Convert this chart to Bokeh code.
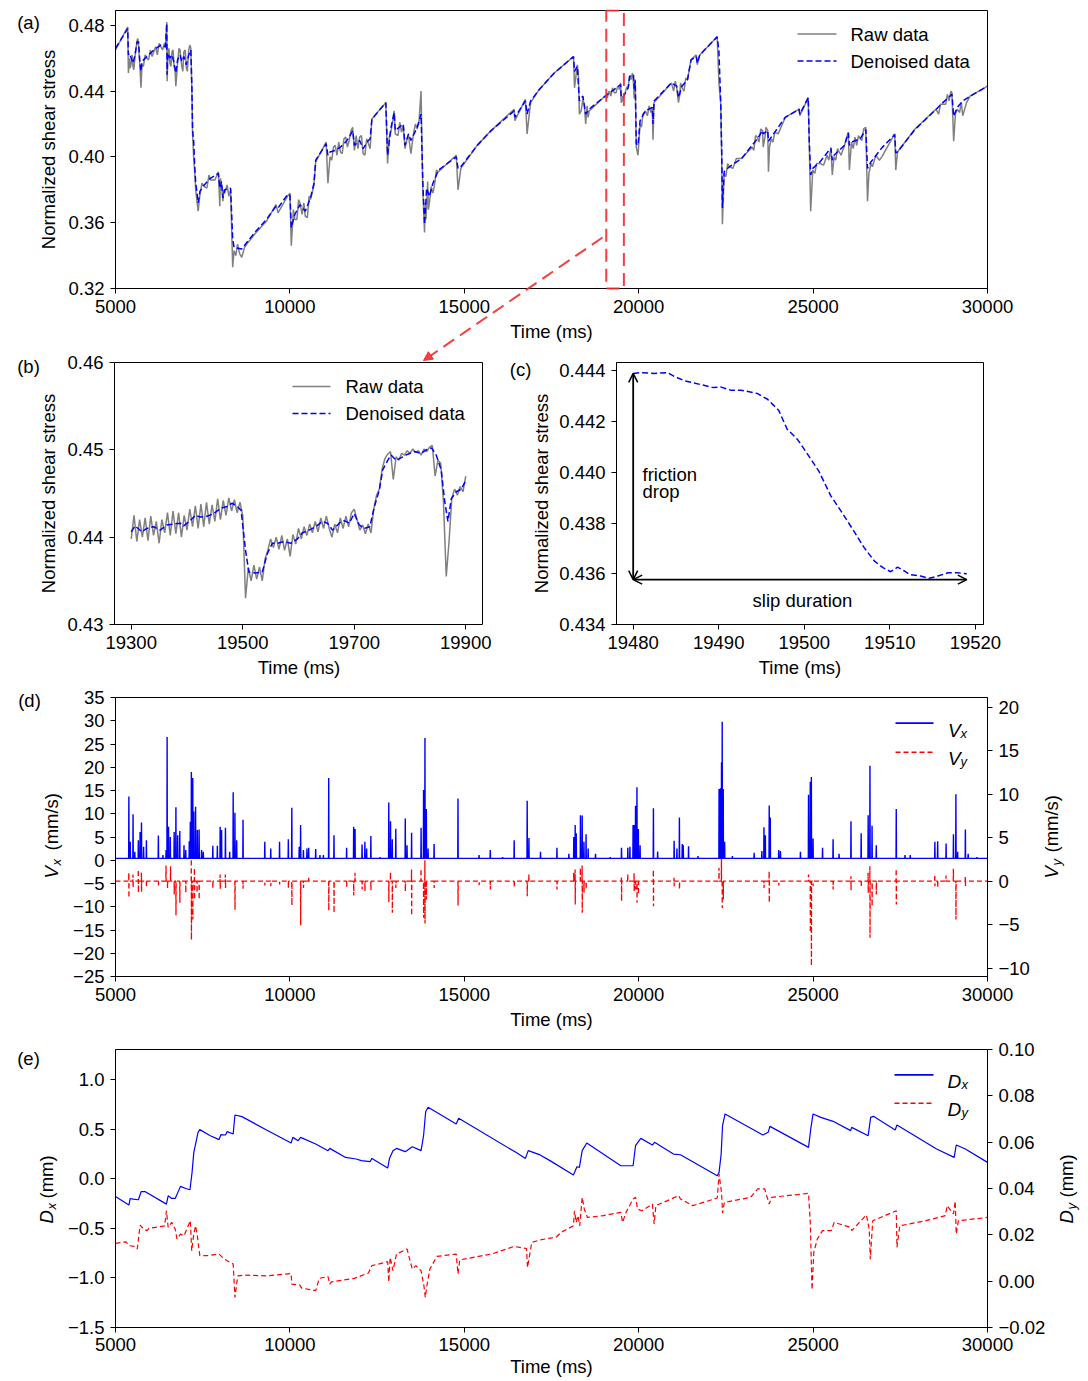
import math
from bokeh.plotting import figure
from bokeh.layouts import column, row
from bokeh.models import (Range1d, LinearAxis, FixedTicker, CustomJSTickFormatter,
                          Label, Arrow, NormalHead, OpenHead, BoxAnnotation)
from bokeh.embed import file_html
from bokeh.resources import INLINE

FONT = "Liberation Sans"
FS = "18.5px"
BLUE = "#0000ff"
RED = "#ff0000"
LINK_RED = "#f52a2a"
GRAY = "#808080"

# ---------------------------------------------------------------- data (a)
a_time = [5000, 5350, 5370, 5400, 5450, 5500, 5550, 5620, 5660, 5700,
          5730, 5760, 5900, 6100, 6300, 6430, 6470, 6480, 6500, 6560,
          6620, 6680, 6730, 6780, 6850, 6900, 6960, 7030, 7100, 7160,
          7190, 7210, 7240, 7270, 7300, 7340, 7370, 7420, 7550, 7720,
          7950, 7990, 8040, 8080, 8130, 8300, 8360, 8400, 8620, 8800,
          9030, 9330, 9600, 9660, 9930, 10000, 10040, 10140, 10290, 10440,
          10590, 10690, 10740, 11040, 11090, 11150, 11300, 11450, 11600, 11700,
          11800, 11850, 12000, 12100, 12250, 12300, 12350, 12750, 12800, 12900,
          12990, 13020, 13250, 13300, 13400, 13470, 13650, 13760, 13810, 13860,
          13920, 14000, 14100, 14160, 14260, 14770, 14820, 14900, 15370, 15770,
          16430, 16450, 16750, 16800, 16900, 17150, 17580, 18130, 18160, 18240,
          18300, 18400, 18480, 18580, 19040, 19300, 19480, 19500, 19540, 19700,
          19740, 19850, 19870, 19900, 19930, 19980, 20040, 20190, 20390, 20410,
          20440, 20940, 21090, 21140, 21240, 21400, 21500, 21650, 21680, 21750,
          22250, 22300, 22350, 22380, 22400, 22450, 22600, 22950, 23250, 23400,
          23550, 23570, 23700, 23720, 23800, 24200, 24600, 24620, 24860, 24890,
          24930, 24990, 25200, 25510, 25550, 25600, 25900, 26010, 26040, 26100,
          26350, 26510, 26560, 26660, 26970, 27340, 27370, 27420, 27920, 28520,
          28720, 28980, 29030, 29130, 29290, 29590, 30000]
a_denoised = [.466, .478, .462, .463, .460, .457, .461, .470, .470, .457,
              .452, .458, .461, .465, .468, .467, .481, .450, .463, .460,
              .462, .457, .451, .459, .462, .458, .461, .456, .462, .465,
              .442, .416, .410, .395, .384, .378, .372, .379, .383, .387,
              .390, .381, .385, .375, .380, .381, .350, .345, .344, .349,
              .355, .362, .370, .369, .377, .377, .357, .365, .371, .367,
              .375, .384, .398, .408, .401, .403, .404, .406, .409, .412,
              .416, .407, .410, .405, .410, .411, .423, .433, .401, .418,
              .427, .416, .420, .407, .414, .410, .418, .426, .385, .359,
              .381, .376, .384, .387, .392, .400, .393, .394, .407, .416,
              .428, .424, .434, .426, .434, .441, .451, .461, .452, .455,
              .434, .437, .426, .429, .437, .441, .444, .436, .436, .442,
              .449, .450, .4415, .4465, .408, .407, .422, .428, .430, .420,
              .434, .445, .443, .436, .443, .447, .459, .461, .457, .462,
              .473, .464, .434, .403, .369, .391, .394, .399, .407, .411,
              .416, .414, .416, .4095, .412, .424, .429, .426, .436, .4095,
              .389, .393, .397, .4055, .398, .401, .407, .4146, .407, .409,
              .411, .4166, .393, .397, .4055, .4136, .4024, .403, .4166, .4288,
              .433, .438, .4247, .430, .434, .438, .443]
a_raw = [.465, .479, .451, .460, .457, .455, .459, .471, .468, .455,
         .442, .456, .460, .464, .467, .466, .482, .446, .461, .457,
         .464, .455, .443, .457, .465, .455, .464, .454, .465, .466,
         .440, .414, .400, .391, .380, .372, .367, .377, .382, .386,
         .391, .370, .383, .373, .378, .380, .333, .343, .339, .348,
         .354, .361, .371, .366, .376, .378, .346, .362, .372, .364,
         .374, .383, .397, .409, .384, .400, .407, .403, .412, .410,
         .418, .404, .412, .402, .408, .405, .423, .433, .396, .416,
         .428, .414, .419, .405, .413, .402, .417, .440, .380, .354,
         .370, .372, .378, .385, .391, .401, .380, .393, .407, .416,
         .429, .422, .435, .414, .433, .441, .451, .461, .442, .456,
         .426, .435, .420, .428, .437, .439, .445, .433, .435, .443,
         .449, .445, .4355, .447, .406, .401, .420, .428, .430, .4105,
         .433, .445, .442, .433, .442, .447, .459, .462, .456, .462,
         .473, .445, .433, .400, .359, .390, .394, .399, .406, .412,
         .416, .406, .416, .391, .411, .424, .429, .425, .436, .408,
         .367, .392, .396, .405, .389, .400, .407, .415, .392, .409,
         .411, .418, .373, .396, .400, .414, .392, .403, .417, .429,
         .432, .439, .4095, .429, .425, .438, .443]
# additional raw samples read in the noisy stretches
a_raw_extra_time = [5420, 5475, 5525, 5590, 5640, 5800, 5850, 5950, 6000, 6050,
                    6150, 6200, 6250, 6350, 6400, 6530, 6590, 6650, 6710, 6820,
                    6930, 7000, 7060, 7130, 7480, 7620, 7680, 7850, 8010, 8100,
                    8200, 8250, 8450, 8500, 8560, 8700, 10100, 10200, 10250, 10350,
                    10400, 10500, 10550, 10650, 11200, 11250, 11350, 11400, 11500, 11550,
                    11650, 11750, 11900, 11950, 12050, 12150, 12200, 12850, 12950, 13100,
                    13150, 13200, 13350, 13550, 13600, 13700, 13880, 13900, 13950, 13970,
                    14050, 14130, 14200, 18200, 18270, 18350, 18440, 18520, 18550, 19100,
                    19150, 19200, 19250, 19350, 19400, 19450, 19600, 19650, 19780, 19820,
                    20080, 20120, 20250, 20300, 20350, 21000, 21050, 21180, 21200, 21300,
                    21350, 22500, 22550, 22700, 22800, 23300, 23350, 23450, 23500, 23620,
                    23650, 23750, 23850, 23900, 24000, 25050, 25100, 25300, 25400, 25450,
                    25650, 25700, 25800, 25950, 26150, 26200, 26250, 26300, 26400, 26450,
                    26600, 26700, 26800, 26900, 28600, 28650, 28800, 28850, 28900, 28950,
                    29080, 29200, 29250, 29400, 29500]
a_raw_extra = [.454, .462, .453, .466, .472, .455, .462, .459, .465, .461,
               .467, .462, .469, .465, .469, .466, .455, .465, .452, .466,
               .452, .465, .452, .468, .384, .381, .389, .386, .387, .380,
               .383, .376, .340, .347, .341, .345, .368, .362, .374, .365,
               .372, .363, .376, .379, .398, .406, .401, .409, .402, .411,
               .406, .416, .413, .405, .413, .401, .411, .412, .422, .413,
               .421, .415, .410, .415, .420, .421, .372, .362, .385, .368,
               .382, .381, .392, .449, .451, .428, .432, .431, .424, .436,
               .440, .437, .442, .439, .443, .441, .438, .442, .447, .451,
               .418, .426, .425, .431, .427, .440, .446, .438, .445, .440,
               .448, .388, .396, .393, .399, .404, .413, .409, .417, .412,
               .418, .406, .409, .415, .414, .390, .396, .395, .401, .398,
               .398, .405, .401, .411, .405, .412, .407, .413, .410, .417,
               .390, .394, .401, .398, .426, .432, .432, .438, .434, .440,
               .426, .427, .433, .433, .437]
zoom_box_time = [19070, 19575]

# ---------------------------------------------------------------- data (b)
b_den_time = [19300, 19307, 19319, 19328, 19340, 19352, 19364, 19376, 19388, 19394,
              19406, 19415, 19424, 19436, 19448, 19460, 19472, 19481, 19490, 19497,
              19505, 19511, 19523, 19535, 19544, 19553, 19562, 19574, 19586, 19598,
              19607, 19619, 19631, 19643, 19652, 19661, 19673, 19682, 19691, 19700,
              19709, 19718, 19728, 19736, 19745, 19751, 19760, 19766, 19775, 19787,
              19796, 19808, 19820, 19829, 19839, 19847, 19856, 19862, 19868, 19874,
              19883, 19892, 19900]
b_denoised = [.4406, .4413, .4406, .4410, .4412, .4408, .4414, .4415, .4416, .4413,
              .4419, .4425, .4423, .4424, .4427, .4433, .4435, .4439, .4435, .4431,
              .4385, .4360, .4359, .4360, .4381, .4393, .4393, .4395, .4393, .4398,
              .4405, .4408, .4412, .4418, .4416, .4408, .4416, .4419, .4416, .4427,
              .4414, .4410, .4412, .4435, .4454, .4477, .4488, .4494, .4488, .4492,
              .4495, .4498, .4496, .4500, .4502, .4494, .4477, .4442, .4418, .4444,
              .4452, .4455, .4465]
b_raw_time = list(range(19300, 19905, 5))
b_raw = [.4398, .4425, .4395, .4420, .4400, .4422, .4396, .4424, .4402, .4418,
         .4393, .4420, .4405, .4428, .4402, .4430, .4404, .4428, .4400, .4425,
         .4408, .4432, .4412, .4436, .4410, .4438, .4412, .4440, .4415, .4437,
         .4418, .4444, .4420, .4442, .4425, .4445, .4430, .4443, .4428, .4440,
         .4425, .4330, .4365, .4350, .4368, .4352, .4366, .4350, .4375, .4385,
         .4398, .4388, .4400, .4386, .4402, .4385, .4398, .4378, .4403, .4392,
         .4410, .4398, .4412, .4402, .4415, .4405, .4418, .4406, .4422, .4410,
         .4424, .4410, .4400, .4415, .4405, .4422, .4410, .4424, .4412, .4428,
         .4432, .4420, .4408, .4414, .4404, .4415, .4405, .4432, .4448, .4455,
         .4478, .4490, .4495, .4498, .4466, .4492, .4488, .4496, .4494, .4499,
         .4496, .4501, .4497, .4499, .4494, .4501, .4498, .4503, .4505, .4470,
         .4488, .4485, .4440, .4355, .4395, .4445, .4455, .4448, .4458, .4452,
         .4470]

# ---------------------------------------------------------------- data (c)
c_time = [19480.0, 19480.8, 19482.4, 19484.0, 19484.7, 19486.0, 19488.0, 19489.4, 19490.2, 19491.4,
          19492.6, 19494.5, 19495.7, 19497.0, 19498.0, 19499.2, 19500.4, 19501.7, 19503.1, 19504.3,
          19505.8, 19507.0, 19508.2, 19509.2, 19510.1, 19510.9, 19511.7, 19512.3, 19513.6, 19514.6,
          19515.6, 19516.8, 19517.9, 19519.0]
c_denoised = [.44390, .44393, .44390, .44393, .44380, .44361, .44345, .44334, .44337, .44324,
              .44324, .44311, .44288, .44245, .44170, .44130, .44071, .44005, .43907, .43847,
              .43768, .43703, .43650, .43624, .43608, .43626, .43611, .43597, .43591, .43582,
              .43591, .43604, .43604, .43600]

# ---------------------------------------------------------------- data (d)
vx_time = [5383, 5423, 5503, 5553, 5655, 5705, 5745, 5806, 5886, 6229,
           6359, 6450, 6480, 6520, 6571, 6682, 6732, 6783, 6843, 6964,
           7014, 7115, 7145, 7175, 7215, 7245, 7296, 7346, 7397, 7467,
           7517, 7790, 7920, 8001, 8041, 8152, 8273, 8374, 8424, 8474,
           8656, 9280, 9451, 9703, 9955, 10055, 10267, 10307, 10388, 10488,
           10538, 10740, 10861, 10961, 11113, 11264, 11626, 11828, 11868, 12069,
           12150, 12200, 12321, 12583, 12835, 12885, 12935, 13036, 13308, 13358,
           13489, 13761, 13832, 13872, 13912, 13962, 14134, 14819, 15423, 15745,
           16098, 16430, 16803, 16853, 17185, 17656, 17998, 18139, 18179, 18209,
           18330, 18380, 18430, 18491, 18551, 18762, 19185, 19507, 19688, 19748,
           19839, 19869, 19909, 19950, 19990, 20040, 20422, 20543, 21016, 21096,
           21167, 21248, 21278, 21429, 21700, 22304, 22344, 22374, 22394, 22424,
           22464, 22686, 23310, 23531, 23591, 23631, 23742, 23772, 24014, 24064,
           24637, 24869, 24919, 24950, 24999, 25271, 25573, 25744, 26086, 26378,
           26579, 26630, 26690, 26811, 27384, 27635, 27786, 28491, 28571, 28813,
           29024, 29094, 29144, 29366, 29446, 29698]
vx_peak = [13.7, 4.0, 9.9, 1.8, 4.3, 6.1, 8.1, 2.9, 4.3, 5.3,
           1.1, 2.2, 26.5, 7.2, 5.0, 6.1, 11.4, 5.4, 6.3, 3.2,
           2.2, 4.1, 8.3, 19.0, 17.7, 10.5, 11.5, 6.5, 6.6, 2.2,
           1.8, 3.1, 3.1, 7.2, 6.5, 7.0, 1.8, 14.6, 10.2, 4.3,
           8.7, 4.0, 2.5, 4.0, 4.5, 11.3, 2.9, 7.6, 2.2, 2.5,
           2.7, 2.4, 1.1, 1.1, 17.7, 5.4, 2.7, 7.2, 6.7, 3.4,
           4.0, 2.5, 5.2, 0.7, 12.4, 8.4, 4.5, 6.8, 9.0, 3.2,
           5.9, 7.0, 15.1, 26.3, 11.0, 2.5, 3.5, 13.3, 1.1, 2.2,
           0.7, 4.3, 12.8, 4.8, 1.8, 2.7, 1.4, 5.0, 7.6, 5.8,
           9.7, 9.6, 4.0, 5.6, 2.5, 1.4, 0.7, 2.7, 2.7, 2.9,
           7.6, 7.6, 11.7, 15.7, 6.7, 3.2, 11.2, 1.9, 4.2, 2.5,
           9.2, 3.5, 3.2, 3.0, 0.9, 15.3, 15.5, 21.1, 29.8, 15.3,
           4.0, 0.9, 1.6, 2.0, 7.1, 5.4, 11.8, 9.2, 2.2, 2.0,
           1.8, 14.1, 16.9, 17.9, 4.7, 2.7, 4.5, 1.4, 8.4, 5.8,
           9.7, 20.3, 7.4, 3.2, 11.0, 1.1, 1.1, 4.0, 4.1, 3.6,
           5.6, 14.2, 1.8, 6.6, 1.4, 0.7]
vx_baseline = 0.4

vy_time = [5383, 5503, 5655, 5745, 5886, 6229, 6450, 6490, 6581, 6682,
           6732, 6843, 7014, 7175, 7215, 7265, 7336, 7397, 7790, 8001,
           8152, 8424, 8656, 9280, 9451, 9703, 9955, 10055, 10307, 10388,
           10538, 11113, 11264, 11626, 11828, 11868, 12069, 12150, 12321, 12835,
           12885, 12935, 13036, 13308, 13489, 13761, 13832, 13872, 13912, 14134,
           14819, 15423, 15745, 16430, 16803, 16853, 17656, 18139, 18179, 18330,
           18380, 18430, 18491, 19507, 19688, 19869, 19909, 19950, 19990, 20422,
           21016, 21167, 22304, 22374, 22394, 22424, 23591, 23742, 24014, 24869,
           24919, 24950, 24999, 25573, 26086, 26378, 26579, 26630, 26690, 26811,
           27384, 28491, 28571, 28813, 29024, 29094, 29366]
vy_up = [0.96, 0.77, 1.34, 1.00, 0, 0, 1.80, 0, 1.72, 0,
         0, 0, 0, 2.57, 0, 1.53, 0, 0, 0, 0.77,
         0.77, 0, 0, 0, 0, 0, 0, 0, 0, 0,
         0.38, 0, 0, 0, 0, 0.96, 0, 0, 0, 0,
         1.03, 0, 0, 0, 1.34, 1.42, 0, 2.41, 0, 0,
         0, 0, 0, 0, 0, 0.77, 0, 0.96, 1.34, 1.53,
         1.80, 0, 0, 0.57, 0.77, 0.96, 0, 0, 0, 1.34,
         0.38, 0, 1.53, 2.57, 0, 0, 0, 1.15, 0, 0.77,
         0, 0, 0, 0, 0.57, 0, 0.96, 1.72, 0, 0,
         1.42, 0.77, 0, 0.65, 1.42, 0, 0.57]
vy_down = [-1.92, -0.77, -1.34, -1.20, -0.57, -0.50, 0, -0.77, 0, -1.53,
           -3.92, -2.49, -1.34, -6.74, -4.41, -2.11, -1.34, -2.11, -0.77, -0.88,
           -0.77, -3.30, -0.88, -0.50, -0.57, -0.38, -0.77, -2.80, -5.06, -0.77,
           0, -3.37, -3.64, -0.65, -1.65, 0, -0.96, -1.15, -1.03, -2.41,
           0, -3.64, -0.77, -1.15, -3.94, 0, -4.21, -4.87, -2.11, -0.77,
           -2.80, -0.46, -0.96, -0.69, -1.72, 0, -0.96, 0, -2.68, 0,
           -3.64, -1.34, -0.96, -2.30, 0, -1.15, -0.96, -2.49, -1.53, -2.87,
           -0.57, -0.96, 0, 0, -3.07, -2.11, -0.77, -2.49, -0.50, 0,
           -5.90, -9.73, -0.57, -0.96, -1.03, -0.57, -1.34, -6.51, -2.87, -1.53,
           -2.68, -0.57, -0.69, 0, 0, -4.41, -0.57]

# ---------------------------------------------------------------- data (e)
dx_time = [5000, 5383, 5423, 5503, 5655, 5735, 5856, 6460, 6510, 6611,
           6712, 6863, 7014, 7135, 7195, 7245, 7286, 7366, 7417, 7719,
           7970, 8021, 8152, 8202, 8374, 8424, 8625, 9330, 10035, 10085,
           10236, 10307, 10740, 11093, 11143, 11596, 11898, 12049, 12300, 12351,
           12804, 12855, 12955, 13056, 13308, 13509, 13761, 13832, 13892, 13962,
           14768, 14839, 16430, 16481, 16752, 16833, 17173, 17467, 18129, 18229,
           18300, 18380, 18511, 19487, 19839, 19909, 20060, 20392, 20453, 20996,
           21197, 22253, 22304, 22364, 22404, 22475, 23561, 23712, 23762, 24869,
           24939, 24999, 25221, 25573, 26076, 26106, 26579, 26650, 26730, 27354,
           27404, 28541, 29044, 29104, 29366, 30000]
dx_value = [-0.178, -0.266, -0.199, -0.205, -0.212, -0.131, -0.131, -0.256, -0.172, -0.199,
            -0.199, -0.077, -0.098, -0.111, 0.064, 0.266, 0.333, 0.468, 0.495, 0.434,
            0.394, 0.444, 0.441, 0.475, 0.451, 0.643, 0.626, 0.491, 0.360, 0.417,
            0.384, 0.417, 0.350, 0.283, 0.306, 0.215, 0.199, 0.182, 0.172, 0.205,
            0.108, 0.205, 0.283, 0.306, 0.273, 0.323, 0.283, 0.434, 0.676, 0.720,
            0.552, 0.609, 0.276, 0.266, 0.205, 0.283, 0.240, 0.180, 0.037, 0.121,
            0.114, 0.283, 0.360, 0.131, 0.131, 0.333, 0.407, 0.340, 0.367, 0.249,
            0.242, 0.030, 0.064, 0.249, 0.536, 0.653, 0.441, 0.468, 0.528, 0.316,
            0.518, 0.653, 0.619, 0.579, 0.485, 0.518, 0.434, 0.619, 0.629, 0.491,
            0.542, 0.299, 0.215, 0.340, 0.299, 0.165]
dy_time = [5000, 5302, 5403, 5553, 5624, 5705, 5806, 5906, 5957, 6410,
           6460, 6510, 6611, 6712, 6762, 6863, 6963, 7145, 7185, 7236,
           7296, 7346, 7417, 7618, 7970, 8122, 8374, 8424, 8505, 8726,
           9330, 10035, 10055, 10287, 10337, 10740, 10841, 11093, 11143, 11193,
           11848, 12250, 12351, 12804, 12835, 12875, 12955, 13056, 13358, 13509,
           13610, 13761, 13842, 13882, 13942, 14013, 14214, 14768, 14819, 14869,
           15775, 16430, 16783, 16813, 16934, 17173, 17467, 17626, 17777, 18129,
           18159, 18209, 18259, 18310, 18380, 18440, 18531, 18984, 19487, 19537,
           19638, 19839, 19909, 19970, 20091, 20392, 20443, 20493, 21147, 21197,
           21549, 22253, 22304, 22374, 22404, 22455, 23209, 23410, 23611, 23742,
           23813, 24869, 24919, 24969, 25020, 25120, 25271, 25522, 25603, 26076,
           26106, 26528, 26609, 26640, 26710, 26831, 27384, 27404, 27485, 28239,
           28792, 28843, 29024, 29074, 29104, 29165, 30000]
dy_value = [.0163, .0170, .0153, .0150, .0139, .0242, .0225, .0218, .0228, .0239,
            .0304, .0232, .0254, .0225, .0182, .0203, .0196, .0261, .0131, .0196,
            .0239, .0196, .0110, .0110, .0117, .0095, .0074, -.0070, .0023, .0026,
            .0023, .0033, -.0013, -.0017, -.0030, -.0041, .0012, .0020, -.0013, -.0003,
            .0012, .0035, .0067, .0084, -.0003, .0103, .0045, .0117, .0139, .0052,
            .0067, .0045, -.0020, -.0070, -.0006, .0052, .0107, .0117, .0031, .0092,
            .0117, .0150, .0141, .0059, .0167, .0178, .0186, .0189, .0211, .0239,
            .0304, .0254, .0283, .0239, .0362, .0311, .0275, .0283, .0297, .0254,
            .0297, .0355, .0362, .0311, .0304, .0333, .0247, .0326, .0369, .0355,
            .0326, .0359, .0463, .0383, .0294, .0340, .0362, .0398, .0398, .0333,
            .0362, .0379, .0254, -.0037, .0124, .0182, .0218, .0218, .0254, .0232,
            .0218, .0286, .0225, .0095, .0261, .0268, .0304, .0146, .0239, .0261,
            .0283, .0326, .0290, .0345, .0203, .0261, .0275]

# ticks
long_time_ticks = [5000, 10000, 15000, 20000, 25000, 30000]
a_yticks = [0.32, 0.36, 0.40, 0.44, 0.48]
b_xticks = [19300, 19500, 19700, 19900]
b_yticks = [0.43, 0.44, 0.45, 0.46]
c_xticks = [19480, 19490, 19500, 19510, 19520]
c_yticks = [0.434, 0.436, 0.438, 0.440, 0.442, 0.444]
d_yticks = [-25, -20, -15, -10, -5, 0, 5, 10, 15, 20, 25, 30, 35]
d_y2ticks = [-10, -5, 0, 5, 10, 15, 20]
e_yticks = [-1.5, -1.0, -0.5, 0.0, 0.5, 1.0]
e_y2ticks = [-0.02, 0.0, 0.02, 0.04, 0.06, 0.08, 0.10]

assert len(a_time) == len(a_denoised) == len(a_raw)
assert len(a_raw_extra_time) == len(a_raw_extra)
assert len(b_den_time) == len(b_denoised)
assert len(b_raw_time) == len(b_raw)
assert len(c_time) == len(c_denoised)
assert len(vx_time) == len(vx_peak)
assert len(vy_time) == len(vy_up) == len(vy_down)
assert len(dx_time) == len(dx_value)
assert len(dy_time) == len(dy_value)

# raw series of (a): sampled values merged in time order
_raw_pairs = sorted(zip(a_time + a_raw_extra_time, a_raw + a_raw_extra))
a_raw_all_time = [t for t, v in _raw_pairs]
a_raw_all = [v for t, v in _raw_pairs]


# ---------------------------------------------------------------- helpers
class Geo:
    """maps page pixel positions to data coordinates of a figure"""
    def __init__(self, fl, ft, fw, fh, xr, yr):
        self.fl, self.ft, self.fw, self.fh, self.xr, self.yr = fl, ft, fw, fh, xr, yr

    def x(self, px):
        return self.xr[0] + (px - self.fl) / self.fw * (self.xr[1] - self.xr[0])

    def y(self, py):
        return self.yr[1] - (py - self.ft) / self.fh * (self.yr[1] - self.yr[0])


def no_align(p):
    try:
        p.frame_align = False
    except AttributeError:
        pass


def make_fig(w, h, bl, br, bt, bb, xr, yr):
    p = figure(width=w, height=h, x_range=Range1d(*xr), y_range=Range1d(*yr),
               output_backend="svg", toolbar_location=None, title=None,
               min_border_left=bl, min_border_right=br, min_border_top=bt, min_border_bottom=bb,
               background_fill_color="white", border_fill_color="white")
    no_align(p)
    p.xgrid.visible = False
    p.ygrid.visible = False
    p.outline_line_color = "black"
    p.outline_line_width = 1
    p.outline_line_alpha = 1.0
    return p


def plot_box(p, xr, yr):
    p.add_layout(BoxAnnotation(left=xr[0], right=xr[1], bottom=yr[0], top=yr[1],
                               fill_alpha=0, line_color="black", line_alpha=1.0, line_width=1))


class Strip:
    """a bare figure whose frame is the whole canvas; y grows downwards (page pixels)"""
    def __init__(self, x0, y0, w, h):
        self.x0, self.y0 = x0, y0
        self.p = figure(width=w, height=h, x_range=Range1d(0, w), y_range=Range1d(h, 0),
                        output_backend="svg", toolbar_location=None, title=None,
                        x_axis_location=None, y_axis_location=None,
                        min_border=0, min_border_left=0, min_border_right=0,
                        min_border_top=0, min_border_bottom=0,
                        background_fill_color="white", border_fill_color="white")
        no_align(self.p)
        self.p.outline_line_color = None
        self.p.grid.visible = False

    def text(self, px, py, text, size=FS, style="normal", align="center", baseline="middle",
             angle=0.0):
        self.p.add_layout(Label(x=px - self.x0, y=py - self.y0, text=text, angle=angle,
                                text_font=FONT, text_font_size=size, text_font_style=style,
                                text_align=align, text_baseline=baseline, text_color="black"))

    def vtext(self, mid_px, pieces):
        # pieces read bottom-to-top; mid_px is the centre line of the rotated text
        for text, py, size, style, dx in pieces:
            self.text(mid_px + dx, py, text, size, style, "left", "middle", math.pi / 2)


def style_axis(ax, ticks, digits, label=None, standoff=5, label_standoff=6):
    ax.ticker = FixedTicker(ticks=ticks)
    ax.formatter = CustomJSTickFormatter(
        code="return tick.toFixed(%d).replace('-', '\\u2212');" % digits)
    ax.major_tick_out = 5
    ax.major_tick_in = 0
    ax.minor_tick_out = 0
    ax.minor_tick_in = 0
    ax.major_tick_line_color = "black"
    ax.axis_line_color = "black"
    ax.major_label_text_font = FONT
    ax.major_label_text_font_size = FS
    ax.major_label_text_color = "black"
    ax.major_label_standoff = label_standoff
    ax.axis_label = label
    ax.axis_label_text_font = FONT
    ax.axis_label_text_font_size = FS
    ax.axis_label_text_font_style = "normal"
    ax.axis_label_text_color = "black"
    ax.axis_label_standoff = standoff


def add_text(p, g, px, py, text, size=FS, style="normal", align="center",
             baseline="middle", angle=0.0):
    p.add_layout(Label(x=g.x(px), y=g.y(py), text=text, text_font=FONT, text_font_size=size,
                       text_font_style=style, text_align=align, text_baseline=baseline,
                       angle=angle, text_color="black"))


def add_seg(p, g, p0, p1, color, width, dash="solid", alpha=1.0, end=None):
    p.add_layout(Arrow(x_start=g.x(p0[0]), y_start=g.y(p0[1]), x_end=g.x(p1[0]), y_end=g.y(p1[1]),
                       start=None, end=end, line_color=color, line_width=width,
                       line_dash=dash, line_alpha=alpha))


def manual_legend(p, g, rows, x0, x1, xt):
    for y, color, dash, text in rows:
        add_seg(p, g, (x0, y), (x1, y), color, 1.5, dash)
        add_text(p, g, xt, y, text, align="left", baseline="middle")


def spike_series(ts, peaks, base, x0, x1, half=6):
    xs, ys = [x0], [base]
    for t, pk in zip(ts, peaks):
        xs += [t - half, t, t + half]
        ys += [base, pk, base]
    xs.append(x1)
    ys.append(base)
    return xs, ys


def updown_series(ts, ups, downs, x0, x1, half=6):
    xs, ys = [x0], [0.0]
    for t, u, d in zip(ts, ups, downs):
        xs += [t - half, t - 2, t + 2, t + half]
        ys += [0.0, u, d, 0.0]
    xs.append(x1)
    ys.append(0.0)
    return xs, ys


# ---------------------------------------------------------------- page geometry
A_box_x, A_box_y = (5000, 30000), (0.32, 0.489)
_ax_px = 872 / 25000.0
_ay_px = 278 / 0.169
# the frame of (a) fills its whole canvas (page x 62..1088, y 9..348); both axes sit at
# fixed positions, so the link line can run through the tick-label area
A_xr = (5000 - 53 / _ax_px, 30000 + 101 / _ax_px)
A_yr = (0.32 - 60 / _ay_px, 0.489 + 1 / _ay_px)
B_box_x, B_box_y = (19270, 19930), (0.43, 0.46)
_bx_px = 368 / 660.0
_by_px = 262 / 0.03
B_xr = (19270, 19930 + 1 / _bx_px)
B_yr = (0.43, 0.46 + 14 / _by_px)
C_xr, C_yr = (19478.05, 19520.95), (0.434, 0.44433)
D_xr, D_yr, D_y2 = (5000, 30000), (-25, 35), (-10.95, 21.1)
E_xr, E_yr, E_y2 = (5000, 30000), (-1.5, 1.303), (-0.02, 0.10)

gA = Geo(62, 9, 1026, 339, A_xr, A_yr)
gB = Geo(114, 348, 369, 276, B_xr, B_yr)
gC = Geo(616, 362, 367, 262, C_xr, C_yr)
gD = Geo(115, 697, 872, 279, D_xr, D_yr)
gE = Geo(115, 1049, 872, 278, E_xr, E_yr)
link_start, link_end = (602, 237), (423, 360)

# ---------------------------------------------------------------- (a)
sa = Strip(0, 0, 62, 348)
sa.text(28, 22, "(a)")
sa.text(48, 149, "Normalized shear stress", angle=math.pi / 2)
pa = make_fig(1026, 348, 0, 0, 9, 0, A_xr, A_yr)
pa.outline_line_color = None
style_axis(pa.xaxis[0], long_time_ticks, 0, "Time (ms)", 5, 6)
style_axis(pa.yaxis[0], a_yticks, 2, None, 5, 6)
pa.xaxis[0].fixed_location = A_box_y[0]
pa.xaxis[0].bounds = A_box_x
pa.yaxis[0].fixed_location = A_box_x[0]
pa.yaxis[0].bounds = A_box_y
pa.line(a_raw_all_time, a_raw_all, line_color=GRAY, line_width=1.5)
pa.line(a_time, a_denoised, line_color=BLUE, line_width=1.5, line_dash="6 3")
plot_box(pa, A_box_x, A_box_y)
manual_legend(pa, gA, [(33.5, GRAY, "solid", "Raw data"), (60.5, BLUE, "6 3", "Denoised data")],
              797, 836, 850)
pa.add_layout(BoxAnnotation(left=zoom_box_time[0], right=zoom_box_time[1],
                            bottom=A_box_y[0], top=A_box_y[1],
                            fill_alpha=0, line_color=LINK_RED, line_width=2,
                            line_dash="13 7", line_alpha=0.9))
add_seg(pa, gA, link_start, link_end, LINK_RED, 2, "13 7", 0.9)

# ---------------------------------------------------------------- (b)
sb = Strip(0, 348, 62, 340)
sb.text(28, 366, "(b)")
sb.text(48, 493, "Normalized shear stress", angle=math.pi / 2)
pb = make_fig(443, 340, 52, 22, 0, 64, B_xr, B_yr)
pb.outline_line_color = None
style_axis(pb.xaxis[0], b_xticks, 0, "Time (ms)", 5, 6)
style_axis(pb.yaxis[0], b_yticks, 2, None, 5, 6)
pb.xaxis[0].bounds = B_box_x
pb.yaxis[0].bounds = B_box_y
pb.line(b_raw_time, b_raw, line_color=GRAY, line_width=1.5)
pb.line(b_den_time, b_denoised, line_color=BLUE, line_width=1.5, line_dash="6 3")
plot_box(pb, B_box_x, B_box_y)
manual_legend(pb, gB, [(386, GRAY, "solid", "Raw data"), (413, BLUE, "6 3", "Denoised data")],
              292, 330, 345)
add_seg(pb, gB, link_start, link_end, LINK_RED, 2, "13 7", 0.9,
        end=NormalHead(size=9, fill_color=LINK_RED, line_color=LINK_RED,
                       fill_alpha=0.9, line_alpha=0.9))

# ---------------------------------------------------------------- (c)
sc = Strip(505, 348, 51, 340)
sc.text(520, 369, "(c)")
sc.text(541, 493, "Normalized shear stress", angle=math.pi / 2)
pc = make_fig(532, 340, 60, 105, 14, 64, C_xr, C_yr)
style_axis(pc.xaxis[0], c_xticks, 0, "Time (ms)", 5, 6)
style_axis(pc.yaxis[0], c_yticks, 3, None, 5, 6)
pc.line(c_time, c_denoised, line_color=BLUE, line_width=1.5, line_dash="6 3")
drop_top = c_denoised[0]
drop_bottom = min(c_denoised) - 0.00005
for xs_, ys_, xe_, ye_ in [(c_time[0], drop_top, c_time[0], drop_bottom),
                           (c_time[0], drop_bottom, c_time[-1], drop_bottom)]:
    pc.add_layout(Arrow(x_start=xs_, y_start=ys_, x_end=xe_, y_end=ye_,
                        start=OpenHead(size=9, line_width=1.5, line_color="black"),
                        end=OpenHead(size=9, line_width=1.5, line_color="black"),
                        line_color="black", line_width=1.8))
add_text(pc, gC, 642, 474, "friction", align="left", baseline="alphabetic")
add_text(pc, gC, 642, 491, "drop", align="left", baseline="alphabetic")
add_text(pc, gC, 802, 600, "slip duration", align="center", baseline="alphabetic")

# ---------------------------------------------------------------- (d)
sdl = Strip(0, 688, 64, 347)
sdl.text(29, 700, "(d)")
sdl.vtext(51, [("V", 878, "18.5px", "italic", 0), ("x", 865, "13px", "italic", 4.5),
               ("(mm/s)", 850, FS, "normal", 0)])
sdr = Strip(1034, 688, 54, 347)
sdr.vtext(1051, [("V", 878, "18.5px", "italic", 0), ("y", 865, "13px", "italic", 4.5),
                 ("(mm/s)", 852, FS, "normal", 0)])
pd_ = make_fig(970, 347, 51, 47, 9, 59, D_xr, D_yr)
pd_.extra_y_ranges = {"vy": Range1d(*D_y2)}
style_axis(pd_.xaxis[0], long_time_ticks, 0, "Time (ms)", 5, 6)
style_axis(pd_.yaxis[0], d_yticks, 0, None, 5, 6)
ax_vy = LinearAxis(y_range_name="vy")
style_axis(ax_vy, d_y2ticks, 0, None, 5, 6)
pd_.add_layout(ax_vy, "right")
vx_x, vx_y = spike_series(vx_time, vx_peak, vx_baseline, D_xr[0], D_xr[1])
vy_x, vy_y = updown_series(vy_time, vy_up, vy_down, D_xr[0], D_xr[1])
pd_.line(vx_x, vx_y, line_color=BLUE, line_width=1.4)
pd_.line(vy_x, vy_y, line_color=RED, line_width=1.3, line_dash="5 3", y_range_name="vy")
add_seg(pd_, gD, (895, 722.7), (933, 722.7), BLUE, 1.8)
add_seg(pd_, gD, (895, 751.7), (933, 751.7), RED, 1.5, "5 3")
add_text(pd_, gD, 947.5, 729.5, "V", "19px", "italic", "left", "alphabetic")
add_text(pd_, gD, 960, 732.5, "x", "13px", "italic", "left", "alphabetic")
add_text(pd_, gD, 947.5, 757.5, "V", "19px", "italic", "left", "alphabetic")
add_text(pd_, gD, 960, 760.5, "y", "13px", "italic", "left", "alphabetic")

# ---------------------------------------------------------------- (e)
sel = Strip(0, 1035, 60, 346)
sel.text(28, 1058, "(e)")
sel.vtext(46, [("D", 1223, "18.5px", "italic", 0), ("x", 1209, "13px", "italic", 4.5),
               ("(mm)", 1198, FS, "normal", 0)])
ser = Strip(1048, 1035, 40, 346)
ser.vtext(1066, [("D", 1223, "18.5px", "italic", 0), ("y", 1209, "13px", "italic", 4.5),
                 ("(mm)", 1197, FS, "normal", 0)])
pe = make_fig(988, 346, 55, 61, 14, 54, E_xr, E_yr)
pe.extra_y_ranges = {"dy": Range1d(*E_y2)}
style_axis(pe.xaxis[0], long_time_ticks, 0, "Time (ms)", 2, 5)
style_axis(pe.yaxis[0], e_yticks, 1, None, 5, 6)
ax_dy = LinearAxis(y_range_name="dy")
style_axis(ax_dy, e_y2ticks, 2, None, 5, 6)
pe.add_layout(ax_dy, "right")
pe.line(dx_time, dx_value, line_color=BLUE, line_width=1.2)
pe.line(dy_time, dy_value, line_color=RED, line_width=1.2, line_dash="5 3", y_range_name="dy")
add_seg(pe, gE, (894, 1074.3), (933, 1074.3), BLUE, 1.8)
add_seg(pe, gE, (894, 1102.7), (933, 1102.7), RED, 1.5, "5 3")
add_text(pe, gE, 947, 1080.5, "D", "19px", "italic", "left", "alphabetic")
add_text(pe, gE, 961, 1083.5, "x", "13px", "italic", "left", "alphabetic")
add_text(pe, gE, 947, 1109, "D", "19px", "italic", "left", "alphabetic")
add_text(pe, gE, 961, 1112, "y", "13px", "italic", "left", "alphabetic")

layout = column(row(sa.p, pa), row(sb.p, pb, sc.p, pc), row(sdl.p, pd_, sdr.p),
                row(sel.p, pe, ser.p))
open("out.html", "w").write(file_html(layout, INLINE))
